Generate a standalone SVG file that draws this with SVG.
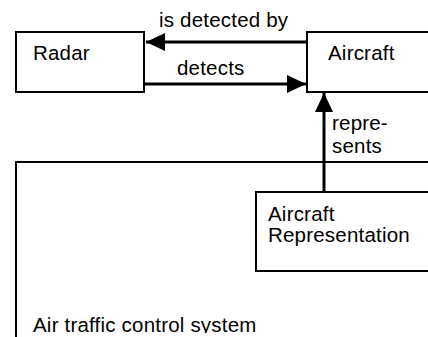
<svg xmlns="http://www.w3.org/2000/svg" width="428" height="337" viewBox="0 0 428 337">
<style>
.box{fill:#fff;stroke:#000;stroke-width:2}
.lbl{font-family:"Liberation Sans",Arial,sans-serif;font-size:20.5px;letter-spacing:0.2px;fill:#000}
.conn{stroke:#000;stroke-width:3;fill:none}
</style>
<defs>
<marker id="ah" markerUnits="userSpaceOnUse" markerWidth="20" markerHeight="18" refX="19" refY="9" orient="auto">
<path d="M0,0 L19,9 L0,18 z" fill="#000"/>
</marker>
<clipPath id="cropText">
<rect x="0" y="0" width="428" height="333"/>
</clipPath>
</defs>
<rect width="428" height="337" fill="#fff"/>
<g id="container">
<rect class="box" x="16" y="162" width="440" height="220"/>
<text class="lbl" x="33" y="332" clip-path="url(#cropText)">Air traffic control system</text>
</g>
<g id="radar">
<rect class="box" x="16" y="32" width="128" height="60"/>
<text class="lbl" x="33" y="60">Radar</text>
</g>
<g id="aircraft">
<rect class="box" x="307" y="32" width="140" height="60"/>
<text class="lbl" x="328" y="60">Aircraft</text>
</g>
<g id="aircraft-representation">
<rect class="box" x="256" y="192" width="200" height="79"/>
<text class="lbl" x="268" y="221">Aircraft</text>
<text class="lbl" x="268" y="242">Representation</text>
</g>
<g id="connectors">
<line class="conn" x1="307" y1="42" x2="146" y2="42" marker-end="url(#ah)"/>
<text class="lbl" x="159" y="27">is detected by</text>
<line class="conn" x1="145" y1="84" x2="306" y2="84" marker-end="url(#ah)"/>
<text class="lbl" x="177" y="75">detects</text>
<line class="conn" x1="324" y1="192" x2="324" y2="93" marker-end="url(#ah)"/>
<text class="lbl" x="332" y="130">repre-</text>
<text class="lbl" x="332" y="153">sents</text>
</g>
</svg>
